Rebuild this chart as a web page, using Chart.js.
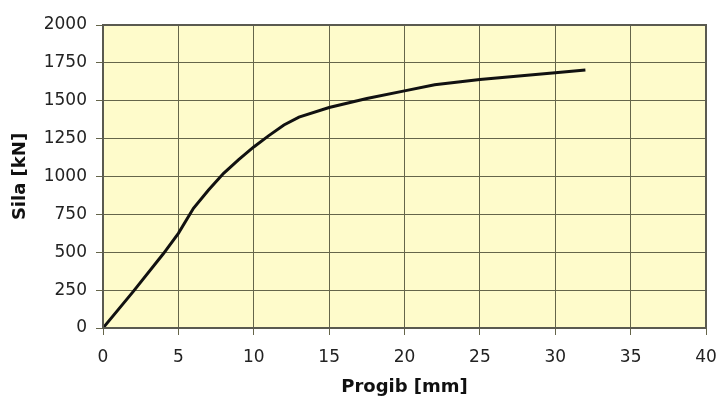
<!DOCTYPE html>
<html><head><meta charset="utf-8">
<script src="https://cdn.jsdelivr.net/npm/chart.js@4/dist/chart.umd.min.js"></script>
<style>html,body{margin:0;padding:0;background:#fff}#w{width:719px;height:399px;position:relative}</style>
</head><body><div id="w"><canvas id="c"></canvas></div>
<script>
const progib = [0, 2, 4, 5, 6, 7, 8, 9, 10, 11, 12, 13, 15, 17.5, 20, 22, 25, 30, 32];
const sila = [0, 240, 490, 625, 790, 911, 1021, 1112, 1195, 1270, 1340, 1392, 1455, 1515, 1565, 1605, 1640, 1685, 1703];
const xTitle = 'Progib [mm]';
const yTitle = 'Sila [kN]';

const bgPlugin = {
  id: 'bg',
  beforeDraw(chart) {
    const {ctx, chartArea: a} = chart;
    ctx.save();
    ctx.fillStyle = '#fefbcb';
    ctx.fillRect(a.left, a.top, a.right - a.left, a.bottom - a.top);
    ctx.restore();
  },
  afterDatasetsDraw(chart) {
    const {ctx, chartArea: a} = chart;
    ctx.save();
    ctx.strokeStyle = '#5a5a50';
    ctx.lineWidth = 2;
    ctx.strokeRect(a.left, a.top, a.right - a.left, a.bottom - a.top);
    ctx.restore();
  }
};
const fam = '"DejaVu Sans", "Liberation Sans", sans-serif';
const font = {family: fam, size: 17};
new Chart(document.getElementById('c'), {
  type: 'scatter',
  data: {datasets: [{
    data: progib.map((x, i) => ({x, y: sila[i]})),
    showLine: true, borderColor: '#111', borderWidth: 3, pointRadius: 0, tension: 0, fill: false
  }]},
  options: {
    responsive: true, maintainAspectRatio: false, animation: false,
    layout: {padding: {left: 0, top: 25, right: 13, bottom: 0}},
    plugins: {legend: {display: false}, tooltip: {enabled: false}},
    scales: {
      x: {type: 'linear', min: 0, max: 40,
        ticks: {stepSize: 5, color: '#222', font, padding: 12, maxRotation: 0, callback: v => String(v)},
        grid: {color: '#65654a', lineWidth: 1, tickLength: 7},
        border: {color: '#5a5a50', width: 2},
        title: {display: true, text: xTitle, color: '#111', font: {family: fam, size: 18, weight: 'bold'}, padding: {top: 0, bottom: 1}},
        afterFit(s) { s.height = 71; s.paddingLeft = 0; s.paddingRight = 0; }
      },
      y: {type: 'linear', min: 0, max: 2000,
        ticks: {stepSize: 250, color: '#222', font, padding: 9, callback: v => String(v)},
        grid: {color: '#65654a', lineWidth: 1, tickLength: 7},
        border: {color: '#5a5a50', width: 2},
        title: {display: true, text: yTitle, color: '#111', font: {family: fam, size: 18, weight: 'bold'}, padding: {top: 10, bottom: 0}},
        afterFit(s) { s.width = 103; s.paddingTop = 0; s.paddingBottom = 0; }
      }
    }
  },
  plugins: [bgPlugin]
});
</script></body></html>
